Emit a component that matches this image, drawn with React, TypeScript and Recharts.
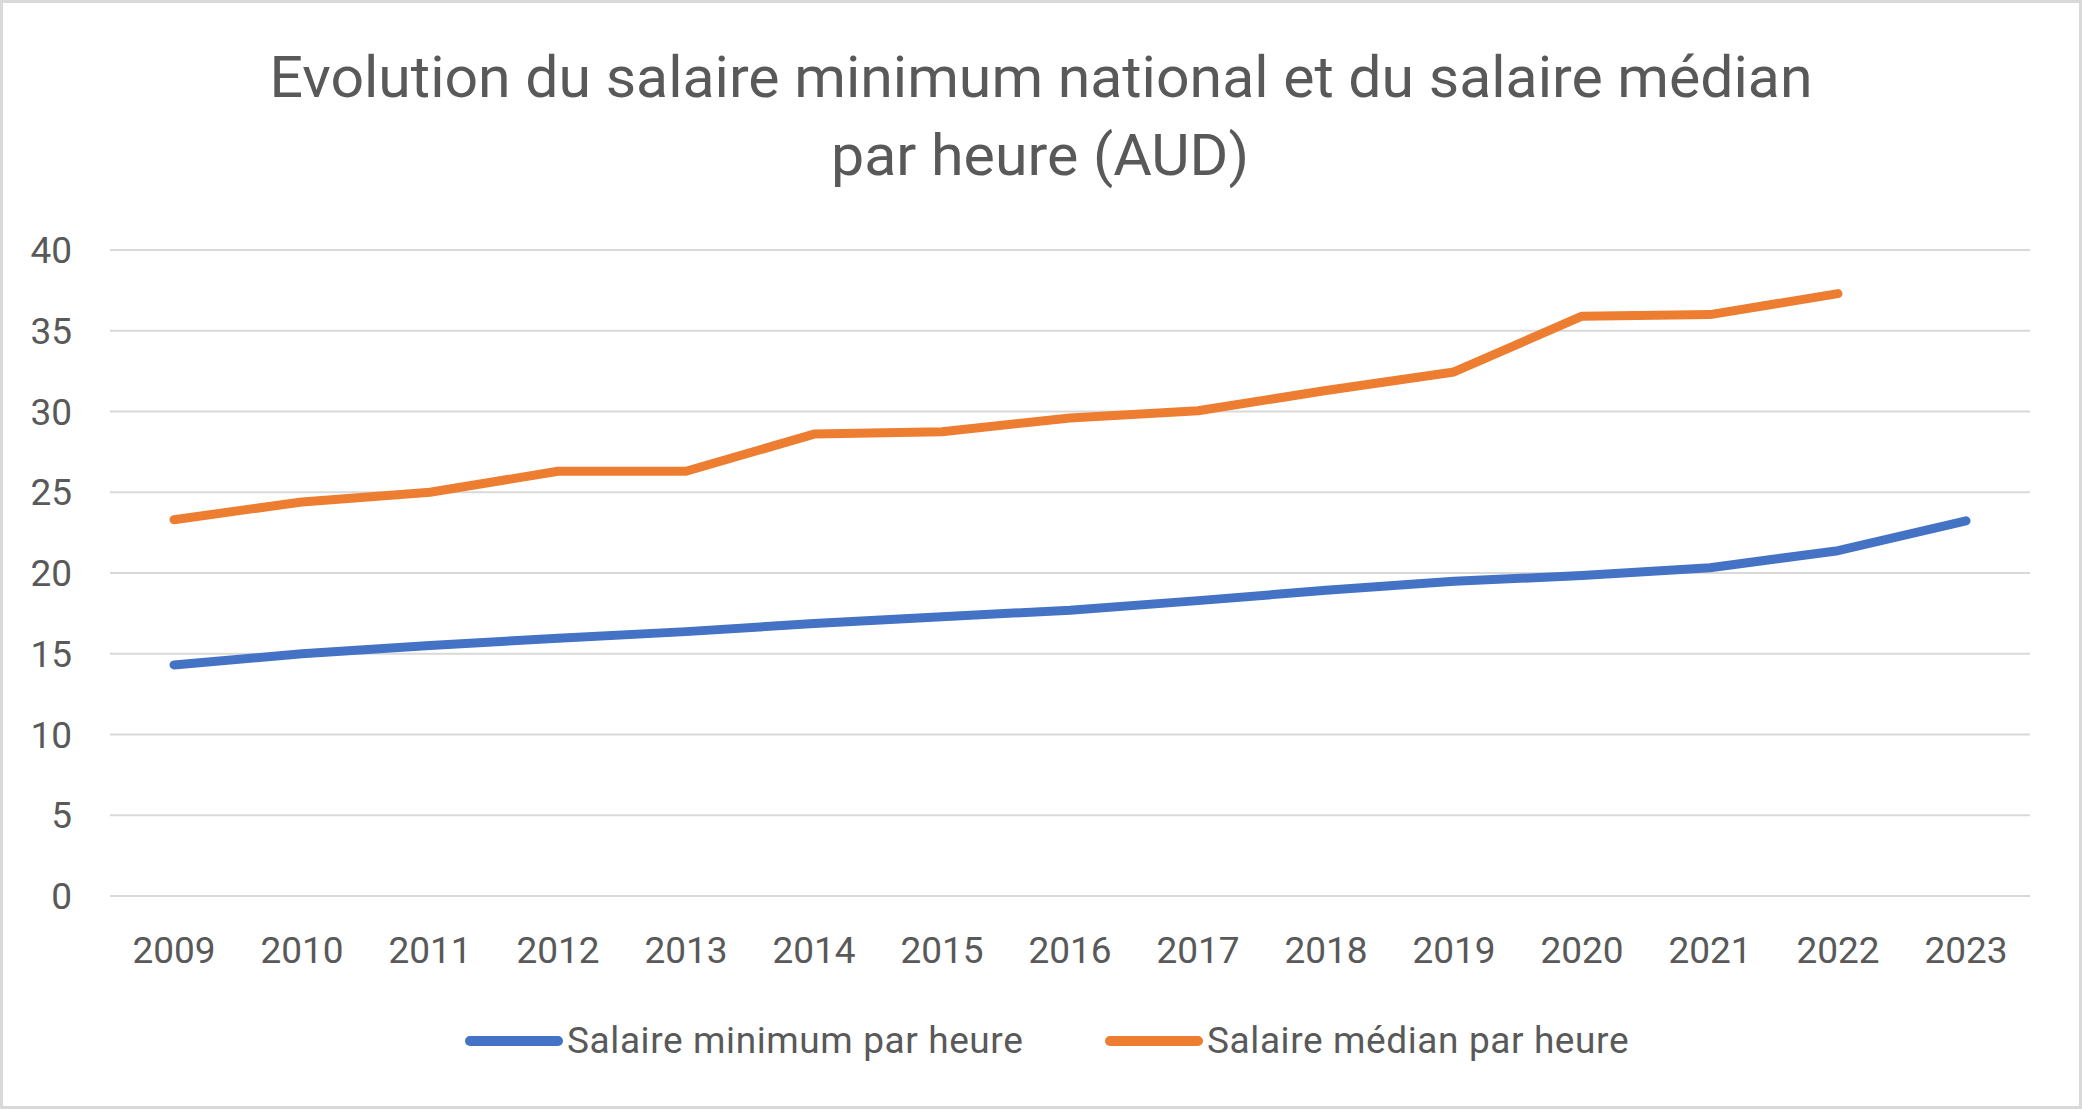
import React from 'react';
import { LineChart, Line, XAxis, YAxis, CartesianGrid, Legend } from 'recharts';

const years = ['2009', '2010', '2011', '2012', '2013', '2014', '2015', '2016', '2017', '2018', '2019', '2020', '2021', '2022', '2023'];
const minimumWage = [14.31, 15.0, 15.51, 15.96, 16.37, 16.87, 17.29, 17.7, 18.29, 18.93, 19.49, 19.84, 20.33, 21.38, 23.23];
const medianWage: (number | null)[] = [23.3, 24.4, 25.0, 26.3, 26.3, 28.6, 28.75, 29.6, 30.05, 31.3, 32.45, 35.9, 36.0, 37.3, null];
const yTicks = [0, 5, 10, 15, 20, 25, 30, 35, 40];

const seriesNames = ['Salaire minimum par heure', 'Salaire médian par heure'];
const seriesColors = ['#4472C4', '#ED7D31'];
const titleLines = ['Evolution du salaire minimum national et du salaire médian', 'par heure (AUD)'];

const data = years.map((y, i) => ({ year: y, min: minimumWage[i], median: medianWage[i] }));

const TEXT = '#595959';
const FONT = 'Roboto, "Open Sans", sans-serif';

const legendLeft = [465, 1105];

const renderLegend = () => (
  <div style={{ position: 'relative', width: 2082, height: 60 }}>
    {seriesNames.map((name, i) => (
      <div
        key={name}
        style={{ position: 'absolute', left: legendLeft[i], top: 0, height: 60, display: 'flex', alignItems: 'center' }}
      >
        <svg width={98} height={14} style={{ display: 'block' }}>
          <line x1={5} y1={7} x2={93} y2={7} stroke={seriesColors[i]} strokeWidth={10} strokeLinecap="round" />
        </svg>
        <span
          style={{
            marginLeft: 4,
            fontSize: 37,
            letterSpacing: 0.6,
            color: TEXT,
            fontFamily: FONT,
            lineHeight: '60px',
            whiteSpace: 'nowrap',
          }}
        >
          {name}
        </span>
      </div>
    ))}
  </div>
);

export default function App() {
  return (
    <div style={{ position: 'absolute', left: 0, top: 0, width: 2082, height: 1109, background: '#fff', overflow: 'hidden' }}>
      <div style={{ position: 'absolute', left: 0, top: 0 }}>
        <LineChart width={2082} height={1109} data={data} margin={{ top: 250, right: 52, bottom: 93, left: 0 }}>
          <CartesianGrid vertical={false} stroke="#D9D9D9" strokeWidth={2} />
          <XAxis
            dataKey="year"
            axisLine={false}
            tickLine={false}
            tickSize={0}
            tickMargin={41}
            height={60}
            padding={{ left: 64, right: 64 }}
            interval={0}
            tick={{ fill: TEXT, fontSize: 37, fontFamily: FONT }}
          />
          <YAxis
            domain={[0, 40]}
            ticks={yTicks}
            width={110}
            axisLine={false}
            tickLine={false}
            tickSize={0}
            tickMargin={38}
            interval={0}
            tick={{ fill: TEXT, fontSize: 37, fontFamily: FONT }}
          />
          <Legend
            verticalAlign="bottom"
            height={60}
            wrapperStyle={{ top: 1011, left: 0, bottom: 'auto', width: 2082, height: 60 }}
            content={renderLegend}
          />
          <Line
            type="linear"
            dataKey="min"
            name={seriesNames[0]}
            stroke={seriesColors[0]}
            strokeWidth={9}
            strokeLinecap="round"
            strokeLinejoin="round"
            dot={false}
            activeDot={false}
            isAnimationActive={false}
          />
          <Line
            type="linear"
            dataKey="median"
            name={seriesNames[1]}
            stroke={seriesColors[1]}
            strokeWidth={9}
            strokeLinecap="round"
            strokeLinejoin="round"
            dot={false}
            activeDot={false}
            isAnimationActive={false}
          />
        </LineChart>
      </div>
      <svg width={2082} height={200} style={{ position: 'absolute', left: 0, top: 0 }}>
        <text x={1041} y={97} textAnchor="middle" fontSize={57.5} fontFamily={FONT} fill={TEXT} textLength={1543} lengthAdjust="spacingAndGlyphs">
          {titleLines[0]}
        </text>
        <text x={1040} y={175} textAnchor="middle" fontSize={57.5} fontFamily={FONT} fill={TEXT} textLength={418} lengthAdjust="spacingAndGlyphs">
          {titleLines[1]}
        </text>
      </svg>
      <div
        style={{
          position: 'absolute',
          left: 0,
          top: 0,
          width: 2082,
          height: 1109,
          boxSizing: 'border-box',
          border: '3px solid #D9D9D9',
          pointerEvents: 'none',
        }}
      />
    </div>
  );
}
